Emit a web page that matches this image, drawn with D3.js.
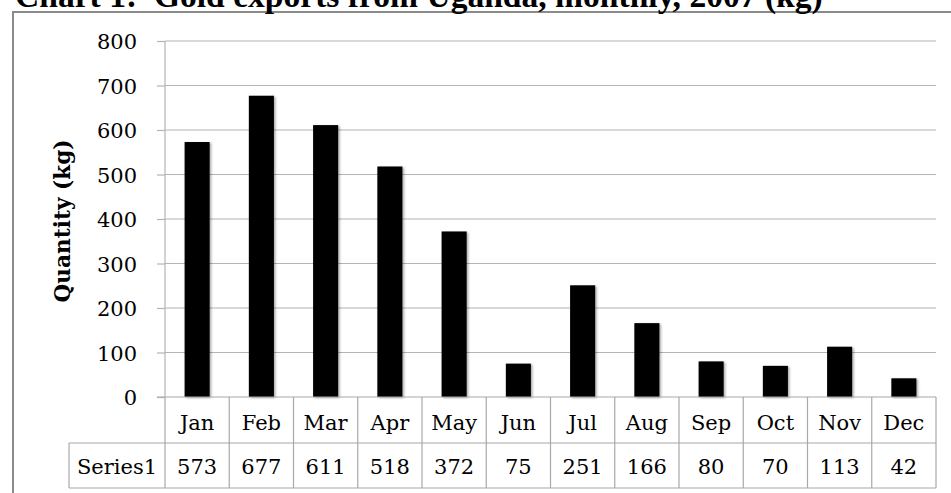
<!DOCTYPE html>
<html>
<head>
<meta charset="utf-8">
<script src="https://cdn.jsdelivr.net/npm/d3@7/dist/d3.min.js"></script>
<style>
  html, body { margin: 0; padding: 0; background: #fff; overflow: hidden; }
  svg { display: block; }
</style>
</head>
<body>
<svg id="chart" width="951" height="493"></svg>
<script>
const title = "Chart 1:  Gold exports from Uganda, monthly, 2007 (kg)";
const yAxisTitle = "Quantity (kg)";
const seriesName = "Series1";
const months = ["Jan","Feb","Mar","Apr","May","Jun","Jul","Aug","Sep","Oct","Nov","Dec"];
const values = [573, 677, 611, 518, 372, 75, 251, 166, 80, 70, 113, 42];
const yTicks = [0, 100, 200, 300, 400, 500, 600, 700, 800];

const svg = d3.select("#chart");
const serif = "'DejaVu Serif', serif";
const gridColor = "#b4b4b4";
const tableColor = "#a8a8a8";

const pLeft = 165, pRight = 936, pTop = 41, pBottom = 397;
const rowH1 = 46, rowH2 = 45, tableLeft = 69;

// filter for bar shadow
const defs = svg.append("defs");
const f = defs.append("filter").attr("id", "shadow").attr("x", "-20%").attr("y", "-5%").attr("width", "150%").attr("height", "115%");
f.append("feDropShadow").attr("dx", 1.5).attr("dy", 1).attr("stdDeviation", 1).attr("flood-color", "#000").attr("flood-opacity", 0.35);

// outer frame
svg.append("rect").attr("x", 13).attr("y", 12).attr("width", 960).attr("height", 520)
  .attr("fill", "none").attr("stroke", "#8a8a8a").attr("stroke-width", 2);

// title
const t = svg.append("text").attr("x", 15).attr("y", 7)
  .attr("font-family", "'Liberation Serif', 'Times New Roman', serif")
  .attr("font-weight", "bold").attr("font-size", 30)
  .style("white-space", "pre").attr("fill", "#000").text(title);
const tw = t.node().getComputedTextLength();
t.attr("font-size", 30 * 808 / tw);

const x = d3.scaleBand().domain(months).range([pLeft, pRight]).paddingInner(0.61).paddingOuter(0.305);
const y = d3.scaleLinear().domain([0, 800]).range([pBottom, pTop]);

// gridlines
svg.append("g").selectAll("line").data(yTicks.filter(d => d > 0)).join("line")
  .attr("x1", pLeft).attr("x2", pRight)
  .attr("y1", d => y(d)).attr("y2", d => y(d))
  .attr("stroke", gridColor).attr("stroke-width", 1.2);

// y axis
const yAxis = svg.append("g").attr("transform", `translate(${pLeft},0)`)
  .call(d3.axisLeft(y).tickValues(yTicks).tickSize(8).tickPadding(20));
yAxis.select(".domain").attr("stroke", gridColor).attr("stroke-width", 1.2).attr("d", `M0,${pTop}V${pBottom}`);
yAxis.selectAll(".tick line").attr("stroke", gridColor).attr("stroke-width", 1.2);
yAxis.selectAll(".tick text").attr("font-family", serif).attr("font-size", 21).attr("fill", "#000").attr("dy", "0.37em");

// bars
svg.append("g").selectAll("rect").data(values).join("rect")
  .attr("x", (d, i) => x(months[i]))
  .attr("y", d => y(d))
  .attr("width", x.bandwidth())
  .attr("height", d => y(0) - y(d))
  .attr("fill", "#000")
  .attr("filter", "url(#shadow)");

// table
const step = x.step();
const bounds = months.map(m => x(m) + x.bandwidth() / 2 - step / 2);
bounds.push(pRight);
const tg = svg.append("g");
tg.append("line").attr("x1", pLeft - 8).attr("x2", pRight).attr("y1", pBottom).attr("y2", pBottom).attr("stroke", tableColor).attr("stroke-width", 1.2);
tg.append("line").attr("x1", tableLeft).attr("x2", pRight).attr("y1", pBottom + rowH1).attr("y2", pBottom + rowH1).attr("stroke", tableColor).attr("stroke-width", 1.2);
tg.append("line").attr("x1", tableLeft).attr("x2", pRight).attr("y1", pBottom + rowH1 + rowH2).attr("y2", pBottom + rowH1 + rowH2).attr("stroke", tableColor).attr("stroke-width", 1.2);
tg.selectAll("line.v").data(bounds).join("line").attr("class", "v")
  .attr("x1", d => d).attr("x2", d => d)
  .attr("y1", pBottom).attr("y2", pBottom + rowH1 + rowH2)
  .attr("stroke", tableColor).attr("stroke-width", 1.2);
tg.append("line").attr("x1", tableLeft).attr("x2", tableLeft).attr("y1", pBottom + rowH1).attr("y2", pBottom + rowH1 + rowH2).attr("stroke", tableColor).attr("stroke-width", 1.2);

tg.selectAll("text.cat").data(months).join("text").attr("class", "cat")
  .attr("x", d => x(d) + x.bandwidth() / 2).attr("y", pBottom + 33)
  .attr("text-anchor", "middle").attr("font-family", serif).attr("font-size", 21).attr("fill", "#000")
  .text(d => d);
tg.selectAll("text.val").data(values).join("text").attr("class", "val")
  .attr("x", (d, i) => x(months[i]) + x.bandwidth() / 2).attr("y", pBottom + 77)
  .attr("text-anchor", "middle").attr("font-family", serif).attr("font-size", 21).attr("fill", "#000")
  .text(d => d);
tg.append("text").attr("x", (tableLeft + pLeft) / 2).attr("y", pBottom + 77)
  .attr("text-anchor", "middle").attr("font-family", serif).attr("font-size", 21).attr("fill", "#000")
  .text(seriesName);

// y axis title
const yt = svg.append("text")
  .attr("transform", `translate(70,${(pTop + pBottom) / 2 + 2}) rotate(-90)`)
  .attr("text-anchor", "middle").attr("font-family", serif).attr("font-weight", "bold")
  .attr("font-size", 18).attr("fill", "#000").text(yAxisTitle);
const yw = yt.node().getComputedTextLength();
yt.attr("font-size", 18 * 163 / yw);
</script>
</body>
</html>
